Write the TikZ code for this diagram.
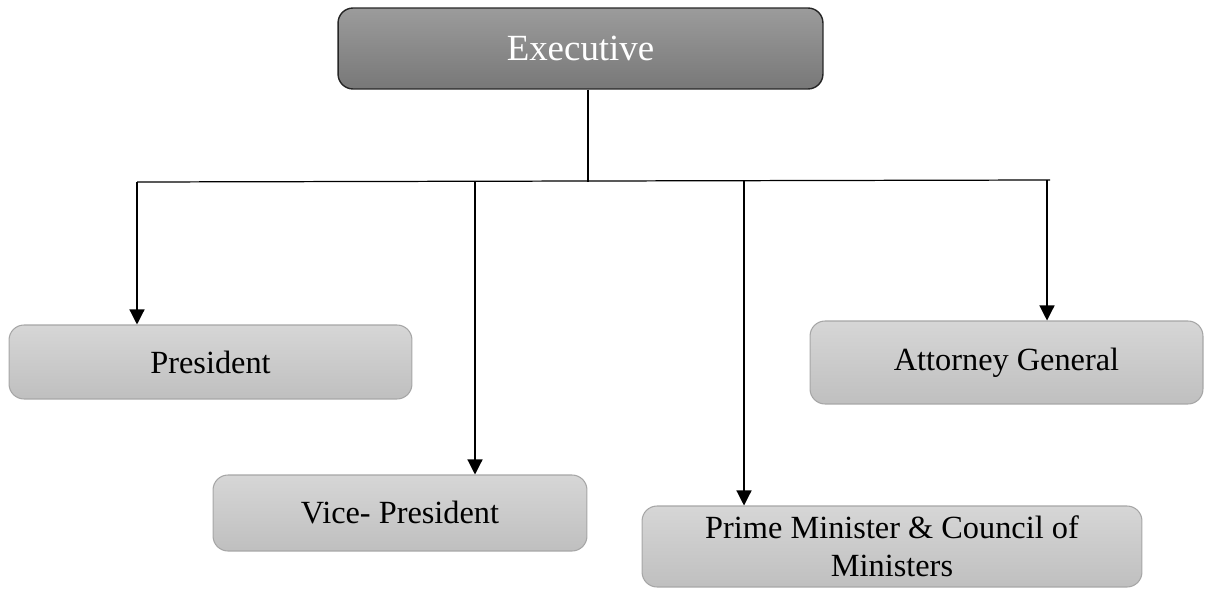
\documentclass[tikz,border=0pt]{standalone}
\usepackage{fontspec}
\setmainfont{Liberation Serif}
\usepackage{xcolor}
\usepackage{tikz}
\usetikzlibrary{arrows.meta}

\begin{document}
\begin{tikzpicture}[x=0.02cm, y=-0.02cm,
        headbox/.style={draw=black!85, line width=0.8pt, rounded corners=0.3cm,
            top color=black!39, bottom color=black!53, text=white, inner sep=0pt,
            font=\fontsize{21}{25}\selectfont},
        rolebox/.style={draw=black!35, line width=0.6pt, rounded corners=0.3cm,
            top color=black!16, bottom color=black!25, inner sep=0pt, align=center,
            font=\fontsize{18.4}{21.5}\selectfont},
        link/.style={line width=0.7pt},
        arr/.style={line width=0.7pt, -{Triangle[width=0.3cm, length=0.3cm]}}]
                \useasboundingbox (0, 0) rectangle (1206, 588);

                % boxes
                \node[headbox, minimum width=9.7cm, minimum height=1.62cm] (exec) at (580.5, 48.5) {Executive};
                \node[rolebox, minimum width=8.06cm, minimum height=1.48cm] (pres) at (210.5, 362) {President};
                \node[rolebox, minimum width=7.48cm, minimum height=1.52cm] (vice) at (400, 513) {Vice- President};
                \node[rolebox, minimum width=10cm, minimum height=1.62cm] (pm) at (892, 546.5)
                    {Prime Minister \& Council of\\ Ministers};
                \node[rolebox, minimum width=7.86cm, minimum height=1.66cm] (ag) at (1006.5, 362.5) {Attorney General};

                % connectors
                \coordinate (split) at (588, 182);
                \coordinate (barL) at (137, 182);
                \coordinate (barR) at (1050, 180);
                \coordinate (viceTop) at (475, 182);
                \coordinate (pmTop) at (744, 181);
                \coordinate (agTop) at (1047, 180);

                \draw[link] (split |- exec.south) -- (split);
                \draw[link] (barL) -- (barR);

                \draw[arr] (barL) -- (barL |- pres.north);
                \draw[arr] (viceTop) -- (viceTop |- vice.north);
                \draw[arr] (pmTop) -- (pmTop |- pm.north);
                \draw[arr] (agTop) -- (agTop |- ag.north);
            \end{tikzpicture}
\end{document}
